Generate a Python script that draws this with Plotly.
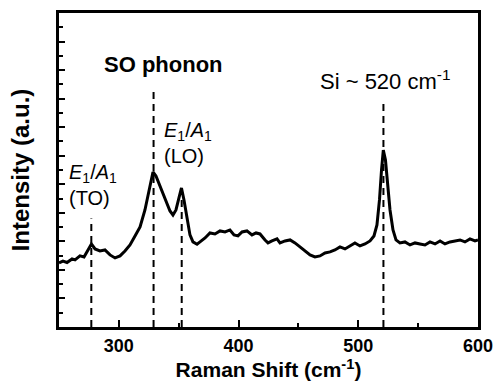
import plotly.graph_objects as go

# Raman spectrum
shift = [250.0, 253.3, 256.7, 260.9, 263.4, 267.5, 270.9, 274.2, 277.1, 280.1,
         284.2, 288.4, 292.6, 296.8, 301.0, 305.1, 309.3, 313.5, 317.7, 321.8,
         325.2, 328.5, 331.0, 334.4, 338.5, 342.7, 345.2, 347.7, 350.2, 352.3,
         354.4, 356.9, 359.4, 361.9, 365.3, 367.8, 372.0, 376.1, 380.3, 384.5,
         388.7, 392.8, 396.2, 399.5, 402.9, 407.0, 411.2, 414.6, 417.9, 422.1,
         424.6, 427.9, 432.1, 434.6, 438.8, 443.0, 447.1, 451.3, 455.5, 459.7,
         463.8, 468.0, 472.2, 476.4, 480.5, 484.7, 488.9, 493.1, 497.2, 501.4,
         505.6, 509.8, 513.1, 515.6, 517.7, 519.4, 520.9, 522.7, 524.4, 526.5,
         529.0, 531.5, 534.8, 539.0, 543.2, 547.4, 551.5, 555.7, 559.9, 564.1,
         568.3, 572.4, 576.6, 580.8, 585.0, 589.1, 593.3, 597.5, 600.0]
intensity = [4.49, 4.62, 4.52, 4.77, 4.70, 4.98, 4.90, 5.40, 5.82, 5.47,
             5.33, 5.40, 5.05, 4.84, 4.98, 5.33, 5.75, 6.38, 7.01, 8.20,
             9.46, 10.86, 10.58, 9.88, 8.90, 8.13, 7.85, 8.20, 9.04, 9.74,
             8.90, 7.64, 6.45, 5.96, 5.80, 5.96, 6.24, 6.59, 6.52, 6.73,
             6.66, 6.80, 6.45, 6.38, 6.66, 6.73, 6.45, 6.59, 6.52, 6.10,
             5.89, 6.03, 6.17, 5.89, 6.03, 6.10, 5.89, 5.61, 5.33, 5.05,
             4.91, 4.98, 5.19, 5.26, 5.40, 5.61, 5.47, 5.68, 5.89, 5.68,
             5.82, 6.03, 6.38, 7.15, 8.90, 11.00, 12.40, 11.70, 10.30, 8.20,
             6.80, 6.10, 5.89, 5.96, 5.75, 5.89, 5.82, 5.75, 5.96, 5.82,
             6.03, 5.82, 5.96, 6.03, 6.10, 5.96, 6.17, 6.03, 6.10]

# Dashed marker lines: position and top height
mark_pos = [277.0, 329.0, 352.5, 521.0]
mark_top = [7.6, 16.75, 9.9, 15.9]

x_ticks = [300, 400, 500, 600]
x_minor = [350, 450, 550]

FONT = "Liberation Sans, Arial, sans-serif"

fig = go.Figure()
fig.add_trace(go.Scatter(x=shift, y=intensity, mode="lines",
                         line=dict(color="black", width=3),
                         showlegend=False, hoverinfo="skip"))

for p, t in zip(mark_pos, mark_top):
    fig.add_shape(type="line", xref="x", yref="y", x0=p, x1=p, y0=0, y1=t,
                  line=dict(color="black", width=2, dash="7px,5px"), layer="below")

ann_font = dict(family=FONT, size=20, color="black")
fig.add_annotation(x=336.9, y=18.4, xref="x", yref="y", text="<b>SO phonon</b>",
                   showarrow=False, font=dict(family=FONT, size=22, color="black"))
fig.add_annotation(x=522.3, y=17.3, xref="x", yref="y", text="Si ~ 520 cm<sup>-1</sup>",
                   showarrow=False, font=dict(family=FONT, size=22, color="black"))
fig.add_annotation(x=256.5, y=9.95, xref="x", yref="y", xanchor="left", align="left",
                   text="<i>E</i><sub>1</sub>/<i>A</i><sub>1</sub><br>(TO)",
                   showarrow=False, font=ann_font)
fig.add_annotation(x=336.0, y=12.9, xref="x", yref="y", xanchor="left", align="left",
                   text="<i>E</i><sub>1</sub>/<i>A</i><sub>1</sub><br>(LO)",
                   showarrow=False, font=ann_font)

fig.update_layout(
    width=494, height=382,
    margin=dict(l=59, r=16, t=13, b=55),
    paper_bgcolor="white", plot_bgcolor="white",
    font=dict(family=FONT, color="black"),
    xaxis=dict(range=[250, 600], tickmode="array", tickvals=x_ticks,
               ticks="inside", ticklen=7, tickwidth=2, tickcolor="black",
               minor=dict(tickmode="array", tickvals=x_minor, ticks="inside",
                          ticklen=4, tickwidth=2, tickcolor="black"),
               showline=True, linewidth=3, linecolor="black", mirror=True,
               showgrid=False, zeroline=False, automargin=False,
               tickfont=dict(family=FONT, size=18, weight="bold"),
               title=dict(text="<b>Raman Shift (cm<sup>-1</sup>)</b>",
                          font=dict(family=FONT, size=21), standoff=0)),
    yaxis=dict(range=[0, 22], dtick=2, tick0=0,
               ticks="inside", ticklen=6, tickwidth=2, tickcolor="black",
               minor=dict(dtick=1, ticks="inside", ticklen=4, tickwidth=2,
                          tickcolor="black"),
               showticklabels=False,
               showline=True, linewidth=3, linecolor="black", mirror=True,
               showgrid=False, zeroline=False, automargin=False,
               title=dict(text="<b>Intensity (a.u.)</b>",
                          font=dict(family=FONT, size=24), standoff=20)),
)

fig.write_html("out.html", config={"displayModeBar": False},
               post_script="document.body.style.margin='0';document.body.style.padding='0';"
                           "document.documentElement.style.overflow='hidden';")
